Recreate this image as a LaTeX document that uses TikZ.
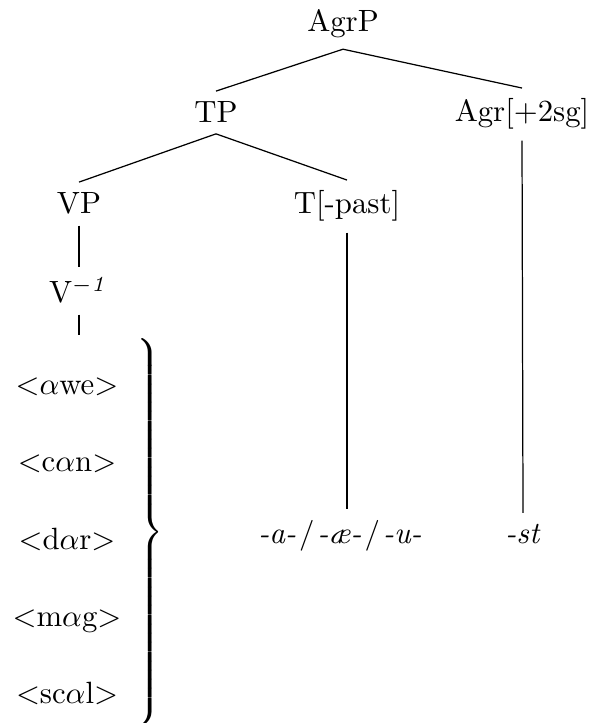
\documentclass[tikz,border=0pt]{standalone}
\usepackage{amsmath}
\usepackage{tikz}
\usetikzlibrary{positioning}

\begin{document}
\begin{tikzpicture}[x=0.325pt, y=-0.325pt,
  cat/.style={anchor=base},
  form/.style={anchor=base}]
  \useasboundingbox (0,0) rectangle (593,723);

  %% ─── Upper tree ─────────────────────────────────────────────────────────
  \node[cat] (agrp)  at (343, 32)  {AgrP};
  \node[cat] (tp)    at (216, 123) {TP};
  \node[cat] (agr)   at (522, 122) {Agr[$+$2sg]};
  \node[cat] (vp)    at (79, 214)  {VP};
  \node[cat] (tpast) at (347, 214) {T[-past]};
  \node[cat] (v)     at (79, 303)  {V$^{-\mathit{1}}$};
  \draw (agrp.south) -- (tp.north);
  \draw (agrp.south) -- (agr.north);
  \draw (tp.south) -- (vp.north);
  \draw (tp.south) -- (tpast.north);
  \draw (vp.south) -- (v.north);

  %% ─── Exponents ──────────────────────────────────────────────────────────
  \node[form] (texp)   at (340, 543)
    {\textit{-a-}\kern1pt/\kern1pt\textit{-\ae-}\kern1pt/\kern1pt\textit{-u-}};
  \node[form] (agrexp) at (523, 543) {\textit{-st}};
  \draw (tpast.south) -- (texp.north -| tpast.south);
  \draw (agr.south) -- (agrexp.north);

  %% ─── Roots under V ──────────────────────────────────────────────────────
  \coordinate (vlist) at (79, 335);
  \draw (v.south) -- (vlist);
  \foreach \w/\y [count=\i] in {{$<$$\alpha$we$>$}/395, {$<$c$\alpha$n$>$}/472,
      {$<$d$\alpha$r$>$}/549, {$<$m$\alpha$g$>$}/626, {$<$sc$\alpha$l$>$}/703}
    \node[form] (root\i) at (67, \y) {\w};
  \node[inner sep=0pt] (brace) at (148, 532)
    {$\delimitershortfall=0pt \delimiterfactor=1000
     \left.\rule[-59.2pt]{0pt}{123.4pt}\right\}$};
\end{tikzpicture}
\end{document}
